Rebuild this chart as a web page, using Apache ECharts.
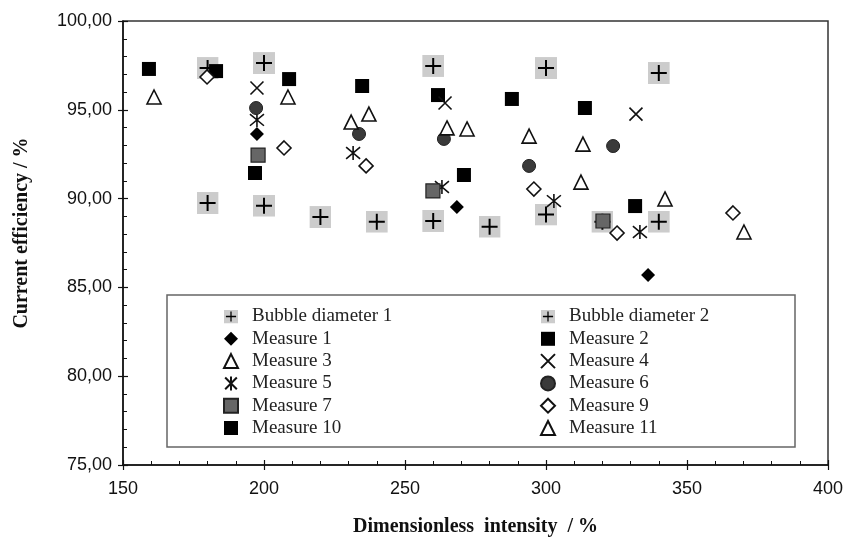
<!DOCTYPE html>
<html>
<head>
<meta charset="utf-8">
<script src="https://cdn.jsdelivr.net/npm/echarts@6/dist/echarts.min.js"></script>
<style>html,body{margin:0;padding:0;background:#fff}#c{width:845px;height:539px}</style>
</head>
<body>
<div id="c"></div>
<script>
// ---- data ----
const bubble1X = [180, 200, 260, 300, 340];
const bubble1Y = [97.35, 97.63, 97.47, 97.35, 97.07];
const bubble2X = [180, 200, 220, 240, 260, 280, 300, 320, 340];
const bubble2Y = [89.75, 89.6, 88.96, 88.7, 88.74, 88.42, 89.1, 88.7, 88.7];
const m1X = [197.5, 268.4, 336.2];
const m1Y = [93.64, 89.53, 85.70];
const m2X = [159.2, 183.0, 208.9, 234.8, 261.7, 287.9, 313.8];
const m2Y = [97.30, 97.18, 96.73, 96.34, 95.83, 95.61, 95.10];
const m3X = [161.0, 208.5, 237.2, 272.0, 294.0, 313.1, 342.2];
const m3Y = [95.72, 95.72, 94.76, 93.92, 93.52, 93.07, 89.98];
const m4X = [197.5, 264.2, 331.9];
const m4Y = [96.23, 95.38, 94.76];
const m5X = [197.5, 231.6, 263.1, 302.8, 333.3];
const m5Y = [94.43, 92.57, 90.65, 89.86, 88.12];
const m6X = [197.2, 233.7, 263.8, 294.0, 323.8];
const m6Y = [95.10, 93.64, 93.36, 91.84, 92.96];
const m7X = [197.9, 259.9, 320.2];
const m7Y = [92.45, 90.43, 88.74];
const m9X = [179.8, 207.1, 236.2, 295.7, 325.2, 366.3];
const m9Y = [96.85, 92.85, 91.84, 90.54, 88.06, 89.19];
const m10X = [196.8, 270.9, 331.6];
const m10Y = [91.44, 91.33, 89.58];
const m11X = [230.9, 264.9, 312.4, 370.2];
const m11Y = [94.31, 93.98, 90.93, 88.12];
const legendLeft = ['Bubble diameter 1', 'Measure 1', 'Measure 3', 'Measure 5', 'Measure 7', 'Measure 10'];
const legendRight = ['Bubble diameter 2', 'Measure 2', 'Measure 4', 'Measure 6', 'Measure 9', 'Measure 11'];

const zip = (xs, ys) => xs.map((x, i) => [x, ys[i]]);

const bubbleSvg = '<svg xmlns="http://www.w3.org/2000/svg" width="44" height="44" viewBox="0 0 22 22">' +
  '<rect x="0" y="0" width="22" height="22" fill="#cccccc"/>' +
  '<path d="M11 3 L11 19 M3 11 L19 11" stroke="#000" stroke-width="2"/></svg>';
const bubbleSym = 'image://data:image/svg+xml;charset=utf-8,' + encodeURIComponent(bubbleSvg);
const crossSym = 'path://M0,0L10,10M10,0L0,10';
const starSym = 'path://M0,0L10,10M10,0L0,10M5,-1L5,11';

function mk(name, xs, ys, symbol, size, style) {
  return {
    name: name, type: 'scatter', data: zip(xs, ys),
    symbol: symbol, symbolSize: size, itemStyle: Object.assign({opacity: 1}, style),
    emphasis: {disabled: true}, xAxisIndex: 0, yAxisIndex: 0
  };
}

const series = [
  mk('Bubble diameter 1', bubble1X, bubble1Y, bubbleSym, 22, {}),
  mk('Bubble diameter 2', bubble2X, bubble2Y, bubbleSym, 22, {}),
  mk('Measure 1', m1X, m1Y, 'diamond', 14, {color: '#000'}),
  mk('Measure 2', m2X, m2Y, 'rect', 14, {color: '#000'}),
  mk('Measure 3', m3X, m3Y, 'triangle', 14, {color: '#fff', borderColor: '#111', borderWidth: 1.6}),
  mk('Measure 4', m4X, m4Y, crossSym, 13, {color: 'transparent', borderColor: '#111', borderWidth: 1.6}),
  mk('Measure 5', m5X, m5Y, starSym, 14, {color: 'transparent', borderColor: '#111', borderWidth: 1.6}),
  mk('Measure 6', m6X, m6Y, 'circle', 13, {color: '#3a3a3a', borderColor: '#222', borderWidth: 1}),
  mk('Measure 7', m7X, m7Y, 'rect', 14, {color: '#666', borderColor: '#222', borderWidth: 1.2}),
  mk('Measure 9', m9X, m9Y, 'diamond', 14, {color: '#fff', borderColor: '#111', borderWidth: 1.6}),
  mk('Measure 10', m10X, m10Y, 'rect', 14, {color: '#000'}),
  mk('Measure 11', m11X, m11Y, 'triangle', 14, {color: '#fff', borderColor: '#111', borderWidth: 1.6})
];

const legendText = {fontFamily: 'Liberation Serif', fontSize: 19, color: '#222', padding: [0, 0, 0, 9]};
function mkLegend(left, data) {
  return {
    left: left, top: 302, orient: 'vertical', itemWidth: 14, itemHeight: 14, itemGap: 3.3,
    selectedMode: false, data: data, textStyle: legendText, z: 5,
    itemStyle: {opacity: 1}
  };
}

const axisFont = {fontFamily: 'Liberation Sans', fontSize: 18, color: '#111'};
const titleFont = {fontFamily: 'Liberation Serif', fontSize: 20, fontWeight: 'bold', color: '#111'};

const chart = echarts.init(document.getElementById('c'), null, {renderer: 'canvas'});
chart.setOption({
  backgroundColor: '#fff',
  animation: false,
  grid: {left: 123, right: 17, top: 21, bottom: 74, show: true, borderColor: '#333', borderWidth: 1.5,
         containLabel: false, outerBoundsMode: 'none'},
  xAxis: [{
    type: 'value', min: 150, max: 400, interval: 50,
    name: 'Dimensionless  intensity  / %', nameLocation: 'middle', nameGap: 52, nameTextStyle: titleFont,
    axisLine: {show: true, lineStyle: {color: '#111', width: 1.5}},
    axisTick: {show: true, inside: true, length: 5, lineStyle: {color: '#111', width: 1.2}},
    minorTick: {show: true, splitNumber: 5, length: 4, lineStyle: {color: '#111', width: 1}},
    axisLabel: Object.assign({margin: 15}, axisFont),
    splitLine: {show: false}
  }, {
    type: 'value', min: 150, max: 400, interval: 50, position: 'bottom', gridIndex: 0,
    axisLine: {show: false}, axisLabel: {show: false}, splitLine: {show: false},
    axisTick: {show: true, inside: false, length: 5, lineStyle: {color: '#111', width: 1.2}}
  }],
  yAxis: [{
    type: 'value', min: 75, max: 100, interval: 5,
    name: 'Current efficiency / %', nameLocation: 'middle', nameGap: 91,
    nameTextStyle: Object.assign({padding: [0, 0, 0, 20]}, titleFont),
    axisLine: {show: true, lineStyle: {color: '#111', width: 1.5}},
    axisTick: {show: true, inside: true, length: 5, lineStyle: {color: '#111', width: 1.2}},
    minorTick: {show: true, splitNumber: 5, length: 4, lineStyle: {color: '#111', width: 1}},
    axisLabel: Object.assign({margin: 11, formatter: v => v.toFixed(2).replace('.', ',')}, axisFont),
    splitLine: {show: false}
  }, {
    type: 'value', min: 75, max: 100, interval: 5, position: 'left', gridIndex: 0,
    axisLine: {show: false}, axisLabel: {show: false}, splitLine: {show: false},
    axisTick: {show: true, inside: false, length: 5, lineStyle: {color: '#111', width: 1.2}}
  }],
  legend: [mkLegend(218, legendLeft), mkLegend(535, legendRight)],
  graphic: [{
    type: 'rect', z: 3,
    shape: {x: 167, y: 295, width: 628, height: 152},
    style: {fill: '#fff', stroke: '#666', lineWidth: 1.5}
  }],
  series: series
});
</script>
</body>
</html>
